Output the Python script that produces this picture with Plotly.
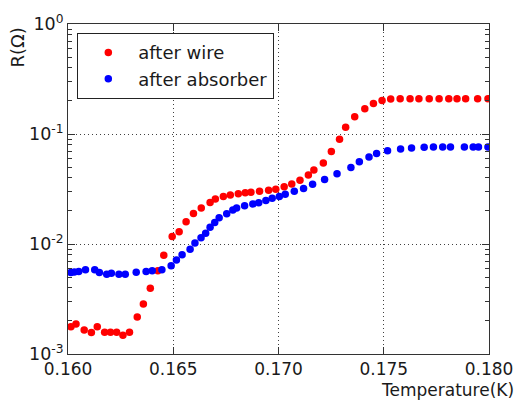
import plotly.graph_objects as go

# --- data ---
wire_T = [0.16014, 0.16038, 0.16077, 0.16111, 0.16139, 0.16174, 0.16202, 0.16231,
          0.16261, 0.16292, 0.16329, 0.16358, 0.16391, 0.16427, 0.16455, 0.16495,
          0.16528, 0.16561, 0.16596, 0.16633, 0.16675, 0.16700, 0.16738, 0.16771,
          0.16809, 0.16842, 0.16869, 0.16910, 0.16953, 0.16987, 0.17027, 0.17063,
          0.17102, 0.17142, 0.17168, 0.17213, 0.17251, 0.17290, 0.17319, 0.17362,
          0.17410, 0.17451, 0.17492, 0.17533, 0.17578, 0.17625, 0.17667, 0.17716,
          0.17763, 0.17809, 0.17848, 0.17889, 0.17946, 0.17995]
wire_R = [1.77e-3, 1.87e-3, 1.65e-3, 1.57e-3, 1.77e-3, 1.58e-3, 1.58e-3, 1.58e-3,
          1.48e-3, 1.58e-3, 2.17e-3, 2.85e-3, 3.96e-3, 5.71e-3, 7.91e-3, 0.0117,
          0.01294, 0.01595, 0.01892, 0.02123, 0.0238, 0.02564, 0.02704, 0.02788,
          0.02866, 0.02926, 0.02951, 0.03014, 0.03078, 0.03143, 0.03311, 0.03508,
          0.03801, 0.04238, 0.04707, 0.05446, 0.0693, 0.08952, 0.1151, 0.1436,
          0.1694, 0.1892, 0.2016, 0.2081, 0.2095, 0.2095, 0.2095, 0.2095,
          0.2095, 0.2095, 0.2095, 0.2095, 0.2095, 0.2095]

abs_T = [0.16014, 0.16030, 0.16051, 0.16083, 0.16127, 0.16149, 0.16184, 0.16206,
         0.16242, 0.16272, 0.16324, 0.16371, 0.16400, 0.16446, 0.16490, 0.16515,
         0.16542, 0.16580, 0.16603, 0.16632, 0.16654, 0.16675, 0.16697, 0.16718,
         0.16754, 0.16783, 0.16801, 0.16839, 0.16878, 0.16906, 0.16940, 0.16970,
         0.17004, 0.17032, 0.17075, 0.17119, 0.17162, 0.17219, 0.17278, 0.17344,
         0.17384, 0.17430, 0.17466, 0.17518, 0.17580, 0.17632, 0.17692, 0.17736,
         0.17780, 0.17817, 0.17883, 0.17925, 0.17950, 0.17995]
abs_R = [5.51e-3, 5.56e-3, 5.62e-3, 5.84e-3, 5.84e-3, 5.51e-3, 5.31e-3, 5.42e-3,
         5.31e-3, 5.31e-3, 5.53e-3, 5.62e-3, 5.71e-3, 5.84e-3, 6.34e-3, 7.16e-3,
         8.00e-3, 8.95e-3, 0.01021, 0.01141, 0.01254, 0.01418, 0.01568, 0.0173,
         0.01884, 0.02036, 0.02124, 0.02229, 0.0231, 0.02369, 0.02486, 0.02603,
         0.02701, 0.02836, 0.03009, 0.03201, 0.03488, 0.03857, 0.04352, 0.04956,
         0.05596, 0.06177, 0.06648, 0.07053, 0.07309, 0.07464, 0.07573, 0.07617,
         0.07617, 0.07617, 0.07617, 0.07617, 0.07617, 0.07617]

x_ticks = [0.160, 0.165, 0.170, 0.175, 0.180]
x_ticktext = ["0.160", "0.165", "0.170", "0.175", "0.180"]
y_ticks = [1e-3, 1e-2, 1e-1, 1e0]
y_ticktext = ["10<sup>-3</sup>", "10<sup>-2</sup>", "10<sup>-1</sup>", "10<sup>0</sup>"]

FONT = "DejaVu Sans"
TXT = "#1a1a1a"

fig = go.Figure()
fig.add_trace(go.Scatter(x=wire_T, y=wire_R, mode="markers", name="after wire",
                         marker=dict(color="#ff0000", size=7.5, line=dict(width=0))))
fig.add_trace(go.Scatter(x=abs_T, y=abs_R, mode="markers", name="after absorber",
                         marker=dict(color="#0000ff", size=7.5, line=dict(width=0))))

axis_common = dict(showline=True, linecolor="#333333", linewidth=1, mirror="allticks",
                   ticks="inside", tickcolor="#333333", ticklen=7, tickwidth=1,
                   showgrid=True, gridcolor="rgba(0,0,0,0.75)", griddash="1px,3px",
                   gridwidth=1, zeroline=False)

fig.update_xaxes(range=[0.160, 0.180], tickmode="array", tickvals=x_ticks,
                 ticktext=x_ticktext, ticklabelstandoff=0,
                 tickfont=dict(family=FONT, size=17, color=TXT), **axis_common)
fig.update_yaxes(type="log", range=[-3, 0], tickmode="array", tickvals=y_ticks,
                 ticktext=y_ticktext,
                 tickfont=dict(family=FONT, size=17.5, color=TXT),
                 minor=dict(ticks="inside", ticklen=4, tickcolor="#333333",
                            tickmode="linear", dtick="D1", showgrid=False),
                 **axis_common)

fig.update_layout(
    width=524, height=401,
    margin=dict(l=68, r=35, t=24, b=47),
    paper_bgcolor="white", plot_bgcolor="white",
    showlegend=True,
    legend=dict(x=0.0214, y=0.973, xanchor="left", yanchor="top",
                bgcolor="white", bordercolor="#222222", borderwidth=1.3,
                font=dict(family=FONT, size=18, color=TXT), itemwidth=50,
                tracegroupgap=0),
    annotations=[
        dict(text="R(Ω)", xref="paper", yref="paper", x=-0.12, y=0.93,
             showarrow=False, textangle=-90, xanchor="center", yanchor="middle",
             font=dict(family=FONT, size=18, color=TXT)),
        dict(text="Temperature(K)", xref="paper", yref="paper", x=1.062, y=-0.1424,
             showarrow=False, xanchor="right", yanchor="bottom", borderpad=0,
             font=dict(family=FONT, size=17, color=TXT)),
    ],
)

fig.write_html("out.html")
